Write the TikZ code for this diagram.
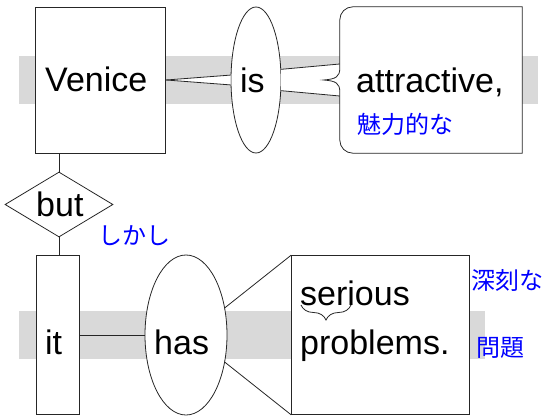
\documentclass[tikz,border=0pt]{standalone}
\usepackage{fontspec}
\setmainfont{Liberation Sans}
\newfontfamily\jpfont{Noto Sans CJK JP}
\usetikzlibrary{shapes.geometric,decorations.pathreplacing}

\begin{document}
\begin{tikzpicture}[x=1pt, y=1pt]
        \tikzstyle{word} = [draw=black!85, line width=0.8pt, fill=white, inner sep=0pt]
        \tikzstyle{word box} = [word, rectangle]
        \tikzstyle{word oval} = [word, ellipse]
        \tikzstyle{word diamond} = [word, diamond, shape aspect=1.66]
        \tikzstyle{txt} = [anchor=base west, inner sep=0pt, font=\fontsize{34}{40}\selectfont]
        \tikzstyle{gloss} = [anchor=west, inner sep=0pt, text=blue, font=\jpfont\fontsize{24}{28}\selectfont]
        \tikzstyle{band} = [fill=black!15]
        \tikzstyle{link} = [draw=black!85, line width=0.8pt]

        \useasboundingbox (0,0) rectangle (547,416);
        \fill[band] (19,312) rectangle (538,360);
        \fill[band] (19,57) rectangle (485,105);

        \node[word box, minimum width=130pt, minimum height=146pt](venice) at(100.8, 336) {};
        \node[word oval, minimum width=50pt, minimum height=146pt](is) at(256, 336) {};
        \node[inner sep=0pt, minimum width=182pt, minimum height=146pt](attr) at(431, 336) {};
        \node[word diamond, minimum width=108pt, minimum height=65pt](but) at(59, 211.5) {};
        \node[word box, minimum width=43.3pt, minimum height=159pt](it) at(57.6, 81) {};
        \node[word oval, minimum width=82pt, minimum height=160pt](has) at(186, 81) {};
        \node[word box, minimum width=177.3pt, minimum height=159pt](prob) at(380.3, 81) {};

        % wedges between the top row
        \fill[white] (venice.east) -- (is.169) -- (is.191) -- cycle;
        \draw[link] (venice.east) -- (is.169);
        \draw[link] (venice.east) -- (is.191);
        \fill[white] (is.23) -- ([yshift=16pt]attr.west) -- ([yshift=-16pt]attr.west) -- (is.-23) -- cycle;
        \draw[link] (is.23) -- ([yshift=16pt]attr.west);
        \draw[link] (is.-23) -- ([yshift=-16pt]attr.west);

        \draw[link, fill=white] (attr.north east) -- (attr.south east)
            -- ([xshift=13pt]attr.south west) arc[start angle=270, end angle=180, radius=13pt]
            -- ([yshift=-12pt]attr.west) .. controls +(0,9) and +(12,-1) .. ([xshift=-16pt]attr.west)
            .. controls +(12,1) and +(0,-9) .. ([yshift=12pt]attr.west)
            -- ([yshift=-13pt]attr.north west) arc[start angle=180, end angle=90, radius=13pt] -- cycle;

        \draw[link] (venice.south -| but.north) -- (but.north);
        \draw[link] (but.south) -- (but.south |- it.north);
        \draw[link] (it.east) -- (has.west);
        \draw[link] (has.35) -- (prob.north west);
        \draw[link] (has.-35) -- (prob.south west);

        \node[txt](venicetext) at(45, 324) {Venice};
        \node[txt](istext) at(240, 323) {is};
        \node[txt](attrtext) at(356, 323) {attractive,};
        \node[gloss](attrgloss) at(357, 292) {魅力的な};
        \node[txt](buttext) at(36, 199.3) {but};
        \node[gloss](butgloss) at(98, 180) {しかし};
        \node[txt](ittext) at(45, 62) {it};
        \node[txt](hastext) at(154, 62) {has};
        \node[txt](sertext) at(300, 111) {serious};
        \node[txt](probtext) at(300, 62) {problems.};
        \node[gloss](sergloss) at(471, 136) {深刻な};
        \node[gloss](probgloss) at(476, 68.5) {問題};

        \draw[link, decorate, decoration={brace, mirror, amplitude=15pt}]
            ([xshift=1pt]sertext.base west) -- ([xshift=51pt]sertext.base west);
\end{tikzpicture}
\end{document}
